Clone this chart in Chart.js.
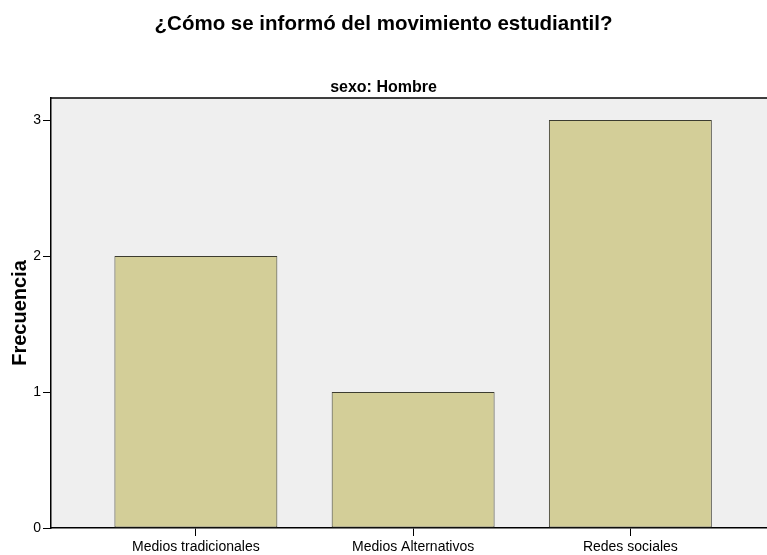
<!DOCTYPE html>
<html>
<head>
<meta charset="utf-8">
<script src="https://cdn.jsdelivr.net/npm/chart.js@4"></script>
<style>
  html, body { margin: 0; padding: 0; background: #fff; overflow: hidden; }
  #wrap { width: 767px; height: 555px; }
</style>
</head>
<body>
<div id="wrap"><canvas id="grafico"></canvas></div>
<script>
// datos
const categorias = ['Medios tradicionales', 'Medios Alternativos', 'Redes sociales'];
const frecuencias = [2, 1, 3];
const ticksY = [0, 1, 2, 3];

const titulo = '¿Cómo se informó del movimiento estudiantil?';
const subtitulo = 'sexo: Hombre';

// fondo gris del area de trazado + borde superior
const fondoPlot = {
  id: 'fondoPlot',
  beforeDraw(chart) {
    const a = chart.chartArea;
    const ctx = chart.ctx;
    ctx.save();
    ctx.fillStyle = '#EFEFEF';
    ctx.fillRect(a.left, a.top, a.right - a.left, a.bottom - a.top);
    ctx.strokeStyle = '#000';
    ctx.lineWidth = 1.5;
    ctx.beginPath();
    ctx.moveTo(a.left, a.top);
    ctx.lineTo(a.right, a.top);
    ctx.stroke();
    ctx.restore();
  }
};

Chart.defaults.font.family = 'Arial, "Liberation Sans", sans-serif';
Chart.defaults.color = '#000';

let ctx = document.getElementById('grafico');
let chart = new Chart(ctx, {
  type: 'bar',
  data: {
    datasets: [{
      data: categorias.map((c, i) => ({x: i, y: frecuencias[i]})),
      backgroundColor: '#D3CE98',
      borderColor: '#3C3C30',
      borderWidth: 1,
      borderSkipped: false,
      barPercentage: 0.75,
      categoryPercentage: 1
    }]
  },
  options: {
    responsive: true,
    maintainAspectRatio: false,
    animation: false,
    layout: { padding: 0 },
    scales: {
      x: {
        type: 'linear',
        offset: false,
        min: -0.667,
        max: 2.629,
        afterBuildTicks: s => { s.ticks = categorias.map((c, i) => ({value: i})); },
        afterFit: s => { s.height = 27; },
        grid: { offset: false, drawOnChartArea: false, drawTicks: true, tickLength: 8, color: '#000', tickWidth: 1 },
        border: { color: '#000', width: 1.5 },
        ticks: {
          padding: 3,
          font: { size: 14 },
          autoSkip: false,
          maxRotation: 0,
          callback: v => categorias[v]
        }
      },
      y: {
        min: 0,
        max: 3.162,
        afterBuildTicks: s => { s.ticks = ticksY.map(v => ({value: v})); },
        afterFit: s => { s.width = 51; },
        grid: { drawOnChartArea: false, drawTicks: true, tickLength: 8, color: '#000', tickWidth: 1 },
        border: { color: '#000', width: 1.5 },
        ticks: { padding: 2, font: { size: 14 } },
        title: {
          display: true,
          text: 'Frecuencia',
          font: { size: 20, weight: 'bold' },
          padding: { top: 8, bottom: 0 }
        }
      }
    },
    plugins: {
      legend: { display: false },
      tooltip: { enabled: false },
      title: {
        display: true,
        text: titulo,
        font: { size: 20.5, weight: 'bold' },
        padding: { top: 12, bottom: 41.4 }
      },
      subtitle: {
        display: true,
        text: subtitulo,
        color: '#000',
        font: { size: 16, weight: 'bold' },
        padding: { top: 0, bottom: 0.8 }
      }
    }
  },
  plugins: [fondoPlot]
});
</script>
</body>
</html>
